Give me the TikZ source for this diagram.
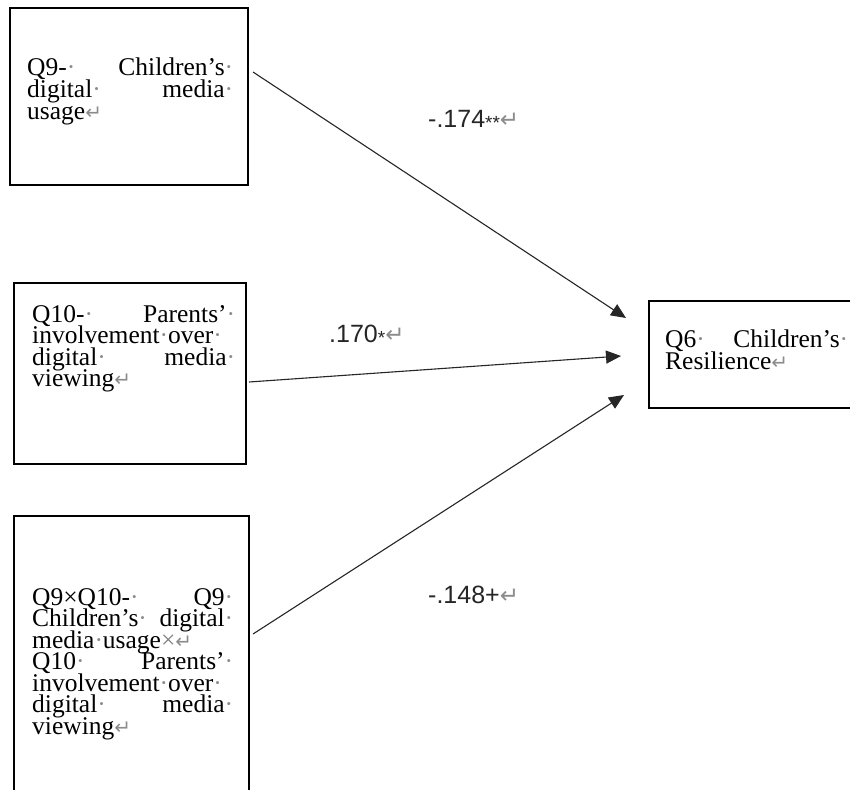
\documentclass[tikz,border=0pt]{standalone}
\usepackage{fontspec}
\setmainfont{Liberation Serif}
\newfontfamily\labfont{Liberation Sans}
\newfontfamily\markfont{DejaVu Sans}
\usetikzlibrary{arrows.meta}
\definecolor{markgray}{gray}{0.55}
\newcommand{\fdot}{{\color{markgray}·}}
\newcommand{\fret}{{\color{markgray}\markfont\fontsize{20}{20}\selectfont ↵}}
\newcommand{\lret}{{\color{markgray}\markfont\fontsize{23}{23}\selectfont ↵}}
\newcommand{\lstar}{\raisebox{-2pt}{\fontsize{19}{19}\selectfont *}}
\newcommand{\boxfont}{\fontsize{25.5}{21.5}\selectfont}
\newcommand{\jl}[2]{\hbox to #1{#2}}
\tikzset{
  boxst/.style={draw=black, line width=2pt, rectangle, inner sep=0pt, anchor=north west},
  lin/.style={anchor=base west, inner sep=0pt, font=\boxfont, text height=15pt, text depth=5pt},
  lab/.style={anchor=base west, inner sep=0pt, font=\labfont\fontsize{25}{25}\selectfont, text=black!85},
  conn/.style={line width=1.1pt, draw=black!85, -{Triangle[length=15pt,width=13pt]}}
}
\begin{document}
\begin{tikzpicture}[x=1pt,y=-1pt]
\useasboundingbox (0,0) rectangle (850,789);
\fill[white] (0,0) rectangle (850,789);
\clip (0,0) rectangle (850,789);

% boxes
\node[boxst, minimum width=238pt, minimum height=177pt] (b1) at (9,7) {};
\node[boxst, minimum width=232pt, minimum height=181pt] (b2) at (13,282) {};
\node[boxst, minimum width=235pt, minimum height=300pt] (b3) at (13,515) {};
\node[boxst, minimum width=235pt, minimum height=107pt] (b4) at (648,300) {};

% box 1 text
\node[lin] (t1a) at (27,76)   {\jl{206pt}{Q9-\fdot\hfill Children’s\fdot}};
\node[lin] (t1b) at (27,97.5) {\jl{206pt}{digital\fdot\hfill media\fdot}};
\node[lin] (t1c) at (27,119)  {usage\fret};

% box 2 text
\node[lin] (t2a) at (32,322)   {\jl{203pt}{Q10-\fdot\hfill Parents’\fdot}};
\node[lin] (t2b) at (32,343.5) {involvement\fdot over\fdot};
\node[lin] (t2c) at (32,365)   {\jl{203pt}{digital\fdot\hfill media\fdot}};
\node[lin] (t2d) at (32,386.5) {viewing\fret};

% box 3 text
\node[lin] (t3a) at (32,605)   {\jl{201pt}{Q9×Q10-\fdot\hfill Q9\fdot}};
\node[lin] (t3b) at (32,626.5) {\jl{201pt}{Children’s\fdot\hfill digital\fdot}};
\node[lin] (t3c) at (32,648)   {media\fdot usage{\color{gray}×}\fret};
\node[lin] (t3d) at (32,669.5) {\jl{201pt}{Q10\fdot\hfill Parents’\fdot}};
\node[lin] (t3e) at (32,691)   {involvement\fdot over\fdot};
\node[lin] (t3f) at (32,712.5) {\jl{201pt}{digital\fdot\hfill media\fdot}};
\node[lin] (t3g) at (32,734)   {viewing\fret};

% box 4 text
\node[lin] (t4a) at (665,347) {\jl{183pt}{Q6\fdot\hfill Children’s\fdot}};
\node[lin] (t4b) at (665,369) {Resilience\fret};

% connectors
\coordinate (s1) at (253,72);  \coordinate (e1) at (626,318);
\coordinate (s2) at (249,382); \coordinate (e2) at (621,356);
\coordinate (s3) at (253,634); \coordinate (e3) at (624,395);
\draw[conn] (s1) -- (e1);
\draw[conn] (s2) -- (e2);
\draw[conn] (s3) -- (e3);

% labels
\node[lab] (l1) at (428,127) {-.174\lstar\lstar\lret};
\node[lab] (l2) at (329,342) {.170\lstar\lret};
\node[lab] (l3) at (428,603) {-.148+\lret};
\end{tikzpicture}
\end{document}
